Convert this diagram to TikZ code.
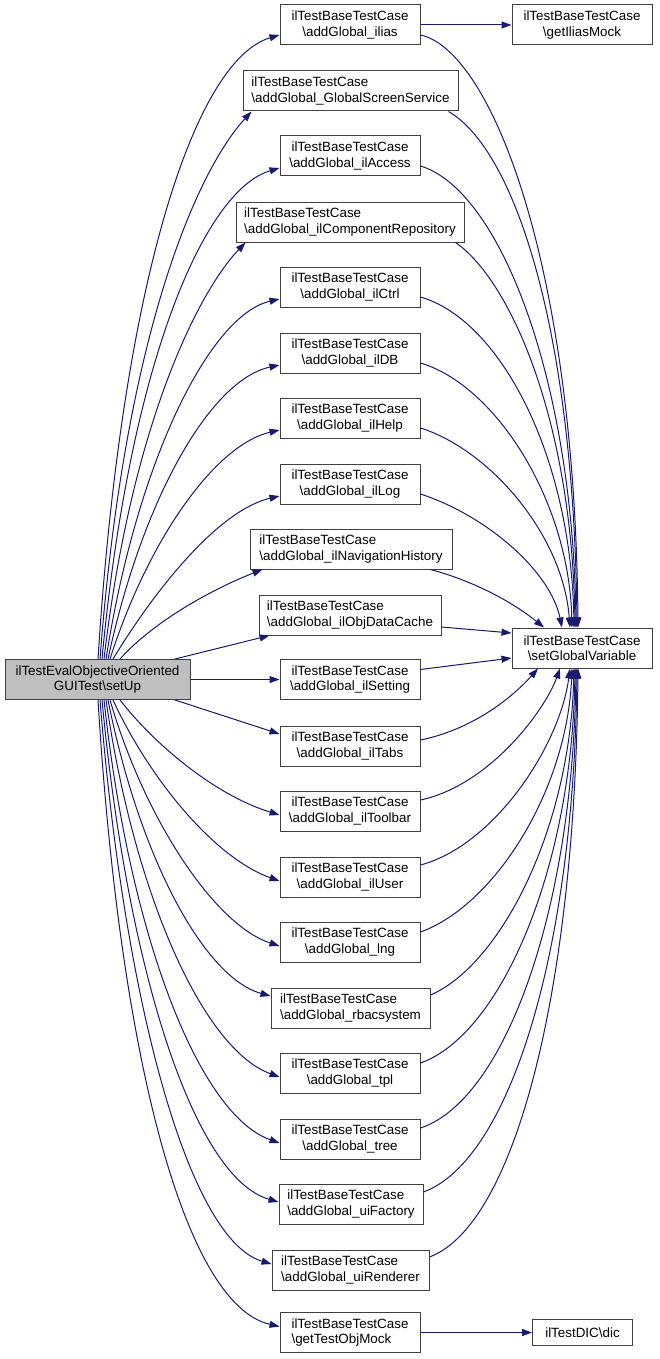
\documentclass[tikz,border=0pt]{standalone}
\usepackage{fontspec}
\setmainfont{Liberation Sans}
\usetikzlibrary{arrows.meta}
\definecolor{edgeblue}{HTML}{191970}
\definecolor{boxline}{HTML}{404040}
\definecolor{mainfill}{HTML}{BFBFBF}
\tikzset{
  box/.style={draw=boxline, line width=1pt, fill=white, minimum height=40pt, inner sep=2pt,
    font=\fontsize{13.4}{15.5}\selectfont, align=center},
  lbox/.style={box, align=left},
  edge/.style={draw=edgeblue, line width=1pt, -{Triangle[length=10pt,width=7pt]}},
}
\begin{document}
\begin{tikzpicture}[x=1pt,y=-1pt]
\useasboundingbox (0,0) rectangle (659,1359);
% nodes
\node[box, fill=mainfill, minimum width=185pt] (main) at (97.5,679.5) {ilTestEvalObjectiveOriented\\GUITest\textbackslash setUp};
\node[box, minimum width=140pt] (ilias) at (350,25) {ilTestBaseTestCase\\\textbackslash addGlobal\_ilias};
\node[lbox, minimum width=215pt] (gss) at (350.5,91) {ilTestBaseTestCase\\\textbackslash addGlobal\_GlobalScreenService};
\node[box, minimum width=140pt] (access) at (350,156) {ilTestBaseTestCase\\\textbackslash addGlobal\_ilAccess};
\node[lbox, minimum width=228pt] (comp) at (350,222) {ilTestBaseTestCase\\\textbackslash addGlobal\_ilComponentRepository};
\node[box, minimum width=140pt] (ctrl) at (350,287) {ilTestBaseTestCase\\\textbackslash addGlobal\_ilCtrl};
\node[box, minimum width=140pt] (db) at (350,353) {ilTestBaseTestCase\\\textbackslash addGlobal\_ilDB};
\node[box, minimum width=140pt] (help) at (350,418) {ilTestBaseTestCase\\\textbackslash addGlobal\_ilHelp};
\node[box, minimum width=140pt] (log) at (350,484) {ilTestBaseTestCase\\\textbackslash addGlobal\_ilLog};
\node[lbox, minimum width=202pt] (nav) at (351,549) {ilTestBaseTestCase\\\textbackslash addGlobal\_ilNavigationHistory};
\node[lbox, minimum width=182pt] (odc) at (350,615) {ilTestBaseTestCase\\\textbackslash addGlobal\_ilObjDataCache};
\node[box, minimum width=140pt] (setting) at (350,679.5) {ilTestBaseTestCase\\\textbackslash addGlobal\_ilSetting};
\node[box, minimum width=140pt] (tabs) at (350,746) {ilTestBaseTestCase\\\textbackslash addGlobal\_ilTabs};
\node[box, minimum width=140pt] (toolbar) at (350,811) {ilTestBaseTestCase\\\textbackslash addGlobal\_ilToolbar};
\node[box, minimum width=140pt] (user) at (350,877) {ilTestBaseTestCase\\\textbackslash addGlobal\_ilUser};
\node[box, minimum width=140pt] (lng) at (350,942) {ilTestBaseTestCase\\\textbackslash addGlobal\_lng};
\node[lbox, minimum width=159pt] (rbac) at (350.5,1008) {ilTestBaseTestCase\\\textbackslash addGlobal\_rbacsystem};
\node[box, minimum width=140pt] (tpl) at (350,1073) {ilTestBaseTestCase\\\textbackslash addGlobal\_tpl};
\node[box, minimum width=140pt] (tree) at (350,1139) {ilTestBaseTestCase\\\textbackslash addGlobal\_tree};
\node[lbox, minimum width=144pt] (uif) at (351,1204) {ilTestBaseTestCase\\\textbackslash addGlobal\_uiFactory};
\node[lbox, minimum width=157pt] (uir) at (350.5,1270) {ilTestBaseTestCase\\\textbackslash addGlobal\_uiRenderer};
\node[lbox, minimum width=140pt] (gtom) at (350,1332.5) {ilTestBaseTestCase\\\textbackslash getTestObjMock};
\node[box, minimum width=140pt] (gim) at (582,25) {ilTestBaseTestCase\\\textbackslash getIliasMock};
\node[box, minimum width=140pt] (sgv) at (582,648) {ilTestBaseTestCase\\\textbackslash setGlobalVariable};
\node[box, minimum width=100pt, minimum height=26pt] (dic) at (582.5,1332.5) {ilTestDIC\textbackslash dic};
% edges from main (upper)
\draw[edge] ([xshift=0.5pt]main.north) .. controls (122,280) and (195,60) .. ([yshift=-10pt]ilias.west);
\draw[edge] ([xshift=2.5pt]main.north) .. controls (125,330) and (198,170) .. ([xshift=9pt]gss.south west);
\draw[edge] ([xshift=4.5pt]main.north) .. controls (130,360) and (205,190) .. ([yshift=-12pt]access.west);
\draw[edge] ([xshift=6.5pt]main.north) .. controls (132,420) and (200,290) .. ([xshift=10pt]comp.south west);
\draw[edge] ([xshift=8.5pt]main.north) .. controls (137,460) and (210,315) .. ([yshift=-12pt]ctrl.west);
\draw[edge] ([xshift=10.5pt]main.north) .. controls (142,500) and (210,380) .. ([yshift=-12pt]db.west);
\draw[edge] ([xshift=12.5pt]main.north) .. controls (148,540) and (215,445) .. ([yshift=-12pt]help.west);
\draw[edge] ([xshift=15.5pt]main.north) .. controls (158,585) and (220,510) .. ([yshift=-12pt]log.west);
\draw[edge] ([xshift=22.5pt]main.north) .. controls (155,620) and (215,588) .. ([xshift=13pt]nav.south west);
\draw[edge] ([xshift=77.5pt]main.north) -- ([xshift=11pt]odc.south west);
\draw[edge] (main.east) -- (setting.west);
\draw[edge] ([xshift=77.5pt]main.south) -- ([yshift=12pt]tabs.west);
% edges from main (lower)
\draw[edge] ([xshift=22.5pt]main.south) .. controls (155,745) and (215,795) .. ([yshift=-4pt]toolbar.west);
\draw[edge] ([xshift=15.5pt]main.south) .. controls (150,780) and (215,858) .. ([yshift=-4pt]user.west);
\draw[edge] ([xshift=12.5pt]main.south) .. controls (145,820) and (215,925) .. ([yshift=-4pt]lng.west);
\draw[edge] ([xshift=10.5pt]main.south) .. controls (140,860) and (205,978) .. ([yshift=12pt]rbac.west);
\draw[edge] ([xshift=8.5pt]main.south) .. controls (135,900) and (205,1050) .. ([yshift=-4pt]tpl.west);
\draw[edge] ([xshift=6.5pt]main.south) .. controls (130,940) and (200,1115) .. ([yshift=-4pt]tree.west);
\draw[edge] ([xshift=4.5pt]main.south) .. controls (128,975) and (195,1178) .. ([yshift=2pt]uif.west);
\draw[edge] ([xshift=2.5pt]main.south) .. controls (125,1010) and (190,1240) .. ([yshift=6pt]uir.west);
\draw[edge] ([xshift=0.5pt]main.south) .. controls (120,1060) and (185,1305) .. ([yshift=6pt]gtom.west);
% edges to setGlobalVariable
\draw[edge] (ilias.east) -- (gim.west);
\draw[edge] ([yshift=-10pt]ilias.east) .. controls (490,50) and (575,260) .. ([xshift=-4pt]sgv.north);
\draw[edge] ([xshift=-10pt]gss.south east) .. controls (515,150) and (574,330) .. ([xshift=-5pt]sgv.north);
\draw[edge] ([yshift=-10pt]access.east) .. controls (500,190) and (573,380) .. ([xshift=-6pt]sgv.north);
\draw[edge] ([xshift=-9pt]comp.south east) .. controls (510,280) and (572,420) .. ([xshift=-7pt]sgv.north);
\draw[edge] ([yshift=-10pt]ctrl.east) .. controls (500,320) and (571,455) .. ([xshift=-8pt]sgv.north);
\draw[edge] ([yshift=-10pt]db.east) .. controls (495,385) and (569,500) .. ([xshift=-10pt]sgv.north);
\draw[edge] ([yshift=-10pt]help.east) .. controls (490,450) and (563,535) .. ([xshift=-12pt]sgv.north);
\draw[edge] ([yshift=-10pt]log.east) .. controls (485,515) and (550,570) .. ([xshift=-20pt]sgv.north);
\draw[edge] ([xshift=-22pt]nav.south east) .. controls (470,580) and (510,600) .. ([xshift=-38pt]sgv.north);
\draw[edge] ([yshift=-12pt]odc.east) -- ([yshift=15pt]sgv.west);
\draw[edge] ([yshift=10pt]setting.east) -- ([yshift=-10pt]sgv.west);
\draw[edge] ([yshift=6pt]tabs.east) .. controls (470,730) and (510,700) .. ([xshift=-44pt]sgv.south);
\draw[edge] ([yshift=11pt]toolbar.east) .. controls (490,785) and (545,710) .. ([xshift=-22pt]sgv.south);
\draw[edge] ([yshift=12pt]user.east) .. controls (495,845) and (560,745) .. ([xshift=-12pt]sgv.south);
\draw[edge] ([yshift=10pt]lng.east) .. controls (495,905) and (567,790) .. ([xshift=-10pt]sgv.south);
\draw[edge] ([yshift=13pt]rbac.east) .. controls (500,965) and (570,830) .. ([xshift=-8pt]sgv.south);
\draw[edge] ([yshift=10pt]tpl.east) .. controls (500,1035) and (572,870) .. ([xshift=-7pt]sgv.south);
\draw[edge] ([yshift=11pt]tree.east) .. controls (505,1100) and (573,910) .. ([xshift=-6pt]sgv.south);
\draw[edge] ([yshift=12pt]uif.east) .. controls (510,1160) and (574,950) .. ([xshift=-5pt]sgv.south);
\draw[edge] ([yshift=13pt]uir.east) .. controls (515,1225) and (575,990) .. ([xshift=-4pt]sgv.south);
\draw[edge] (gtom.east) -- (dic.west);
\end{tikzpicture}
\end{document}
